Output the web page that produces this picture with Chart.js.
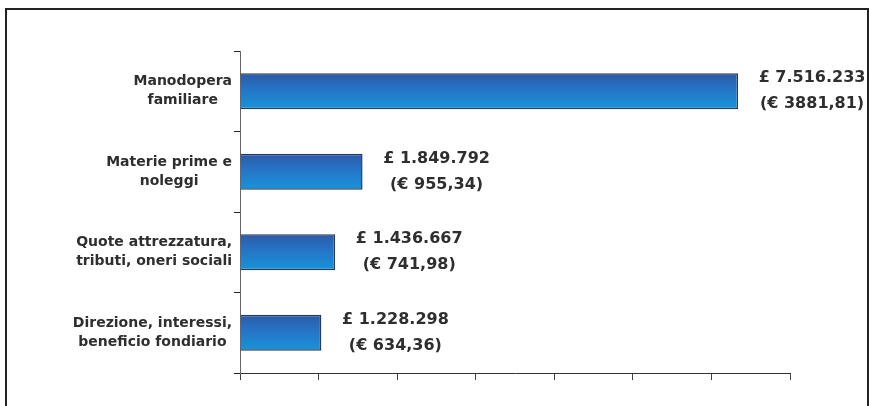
<!DOCTYPE html>
<html>
<head>
<meta charset="utf-8">
<script src="https://cdn.jsdelivr.net/npm/chart.js@4"></script>
<style>
  html, body { margin: 0; padding: 0; background: #fff; overflow: hidden; }
  #wrap { position: relative; width: 869px; height: 406px; }
  #frame { position: absolute; left: 5px; top: 8px; width: 864px; height: 430px;
           border: 2px solid #222; box-sizing: border-box; }
  #c { position: absolute; left: 0; top: 0; }
</style>
</head>
<body>
<div id="wrap">
  <div id="frame"></div>
  <canvas id="c" width="869" height="406"></canvas>
</div>
<script>
// Cost items (two-line names)
const categories = [
  ["Manodopera", "familiare"],
  ["Materie prime e", "noleggi"],
  ["Quote attrezzatura,", "tributi, oneri sociali"],
  ["Direzione, interessi,", "beneficio fondiario"]
];
// Amounts in lire and the same amounts in euro
const costLire = [7516233, 1849792, 1436667, 1228298];
const costEuro = [3881.81, 955.34, 741.98, 634.36];
// Value axis: upper bound (lire) and number of tick intervals
const axisMaxLire = 8300000;
const axisSteps = 7;

const lireText = v => '£ ' + String(v).replace(/\B(?=(\d{3})+(?!\d))/g, '.');
const euroText = v => '(€ ' + v.toFixed(2).replace('.', ',') + ')';

const BAR_PCT = 0.447;

function barGradient(context) {
  const chart = context.chart;
  const yScale = chart.scales && chart.scales.y;
  if (!chart.chartArea || !yScale) return '#1f7bcb';
  const yc = yScale.getPixelForValue(context.dataIndex);
  const half = (chart.chartArea.height / categories.length) * BAR_PCT / 2;
  const g = chart.ctx.createLinearGradient(0, yc - half, 0, yc + half);
  g.addColorStop(0, '#2c5aa8');
  g.addColorStop(0.45, '#2575c6');
  g.addColorStop(1, '#1794da');
  return g;
}

const costLabels = {
  id: 'costLabels',
  afterDraw(chart) {
    const { ctx, scales: { x, y } } = chart;
    ctx.save();
    ctx.fillStyle = '#2e2e2e';
    ctx.textBaseline = 'middle';
    ctx.textAlign = 'center';

    // item names: block right-aligned against the axis, lines centred
    ctx.font = 'bold 14px "DejaVu Sans"';
    categories.forEach((lines, i) => {
      const yc = y.getPixelForValue(i);
      const w = Math.max(...lines.map(l => ctx.measureText(l).width));
      const cx = y.right - 8 - w / 2;
      lines.forEach((l, k) => ctx.fillText(l, cx, yc + (k - (lines.length - 1) / 2) * 19));
    });

    // amounts beside each bar
    ctx.font = 'bold 16px "DejaVu Sans"';
    costLire.forEach((v, i) => {
      const yc = y.getPixelForValue(i);
      const cx = x.getPixelForValue(v) + 74;
      ctx.fillText(lireText(v), cx, yc - 13);
      ctx.fillText(euroText(costEuro[i]), cx, yc + 13);
    });
    ctx.restore();
  }
};

new Chart(document.getElementById('c'), {
  type: 'bar',
  data: {
    labels: categories,
    datasets: [{
      data: costLire,
      backgroundColor: barGradient,
      borderColor: '#2a3c56',
      borderWidth: 1.5,
      categoryPercentage: 1,
      barPercentage: BAR_PCT
    }]
  },
  options: {
    indexAxis: 'y',
    responsive: false,
    animation: false,
    layout: { padding: { top: 51, right: 79, left: 0, bottom: 0 } },
    plugins: { legend: { display: false }, tooltip: { enabled: false } },
    scales: {
      x: {
        type: 'linear',
        min: 0,
        max: axisMaxLire,
        afterBuildTicks: s => {
          s.ticks = Array.from({ length: axisSteps + 1 }, (_, i) => ({ value: i * axisMaxLire / axisSteps }));
        },
        afterFit: s => { s.height = 33; },
        ticks: { display: false },
        grid: { drawOnChartArea: false, drawTicks: true, tickLength: 7, color: '#444', lineWidth: 1 },
        border: { display: true, color: '#333', width: 1 }
      },
      y: {
        type: 'category',
        afterFit: s => { s.width = 240; },
        ticks: { display: false },
        grid: { drawOnChartArea: false, offset: true, drawTicks: true, tickLength: 6, color: '#222', lineWidth: 1 },
        border: { display: true, color: '#666', width: 1 }
      }
    }
  },
  plugins: [costLabels]
});
</script>
</body>
</html>
